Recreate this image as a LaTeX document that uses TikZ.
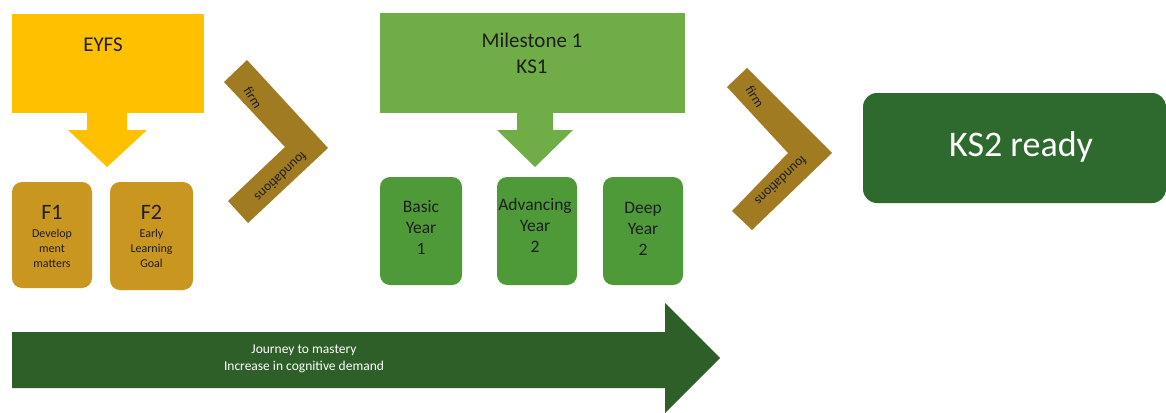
\documentclass[tikz,border=0pt]{standalone}
\usepackage{fontspec}
\setmainfont{Carlito}
\definecolor{eyfsY}{HTML}{FFC000}
\definecolor{fgold}{HTML}{C9961F}
\definecolor{chev}{HTML}{A07B22}
\definecolor{msG}{HTML}{70AD47}
\definecolor{yrG}{HTML}{4E9A38}
\definecolor{ksG}{HTML}{2E6A2E}
\definecolor{arrG}{HTML}{2F5F28}
\definecolor{dtext}{HTML}{1E1E1E}
\begin{document}
\begin{tikzpicture}[x=1pt,y=-1pt,
  blk/.style={anchor=north west, inner sep=0pt, outer sep=0pt},
  rbox/.style={blk, rounded corners=10pt},
  hdr/.style={font=\fontsize{21}{26}\selectfont, text=dtext, align=center},
  ftitle/.style={font=\fontsize{22}{24}\selectfont, text=dtext},
  fsub/.style={font=\fontsize{12}{15}\selectfont, text=dtext, align=center},
  yrtxt/.style={font=\fontsize{17.5}{21}\selectfont, text=dtext, align=center},
  chevtxt/.style={font=\fontsize{13.5}{14}\selectfont, text=dtext, inner sep=1pt},
  wtxt/.style={text=white, align=center}]
\useasboundingbox (0,0) rectangle (1166,412);
\fill[white] (0,0) rectangle (1166,412);

% big journey arrow
\coordinate (jtip) at (720,358);
\fill[arrG] (12,332) -- (665,332) -- (665,303) -- (jtip) -- (665,413) -- (665,388) -- (12,388) -- cycle;
\node[wtxt, font=\fontsize{13.5}{17}\selectfont] (journey) at (304,359) {Journey to mastery\\Increase in cognitive demand};

% EYFS
\node[blk, fill=eyfsY, minimum width=192pt, minimum height=99pt] (eyfs) at (12,14) {};
\node[hdr] (eyfsT) at (103,45) {EYFS};
\fill[eyfsY] (87,112) -- (127,112) -- (127,130) -- (147,130) -- (107,167) -- (68,130) -- (87,130) -- cycle;

\node[rbox, fill=fgold, minimum width=80pt, minimum height=106pt] (f1) at (12,182) {};
\node[ftitle] (f1T) at (f1.center) [yshift=23pt] {F1};
\node[fsub] (f1S) at (f1.center) [yshift=-13pt] {Develop\\ment\\matters};
\node[rbox, fill=fgold, minimum width=83pt, minimum height=108pt] (f2) at (110,182) {};
\node[ftitle] (f2T) at (f2.center) [yshift=24pt] {F2};
\node[fsub] (f2S) at (f2.center) [yshift=-12pt] {Early\\Learning\\Goal};

% chevron 1
\fill[chev] (224,82) -- (247,60) -- (328,148) -- (248,223) -- (228,201) -- (285,147) -- cycle;
\node[chevtxt, rotate=-58] (firm1) at (253,98) {firm};
\node[chevtxt, rotate=-137] (found1) at (281,177) {foundations};

% Milestone 1
\node[blk, fill=msG, minimum width=305pt, minimum height=100pt] (ms) at (380,13) {};
\node[hdr] (msT) at (532,53) {Milestone 1\\KS1};
\fill[msG] (517,112) -- (553,112) -- (553,130) -- (573,130) -- (535,167) -- (497,130) -- (517,130) -- cycle;

\node[rbox, fill=yrG, minimum width=82pt, minimum height=108pt] (basic) at (380,177) {};
\node[yrtxt] (basicT) at (421,227) {Basic\\Year\\1};
\node[rbox, fill=yrG, minimum width=80pt, minimum height=108pt] (adv) at (497,177) {};
\node[yrtxt] (advT) at (535,225) {Advancing\\Year\\2};
\node[rbox, fill=yrG, minimum width=80pt, minimum height=108pt] (deep) at (603,177) {};
\node[yrtxt] (deepT) at (643,229) {Deep\\Year\\2};

% chevron 2
\fill[chev] (727,87) -- (747,68) -- (832,153) -- (752,230) -- (732,211) -- (788,153) -- cycle;
\node[chevtxt, rotate=-58] (firm2) at (755,97) {firm};
\node[chevtxt, rotate=-137] (found2) at (781,181) {foundations};

% KS2 ready
\node[rbox, rounded corners=14pt, fill=ksG, minimum width=303pt, minimum height=110pt] (ks2) at (863,93) {};
\node[wtxt, font=\fontsize{36}{40}\selectfont] (ks2T) at (1021,147) {KS2 ready};
\end{tikzpicture}
\end{document}
